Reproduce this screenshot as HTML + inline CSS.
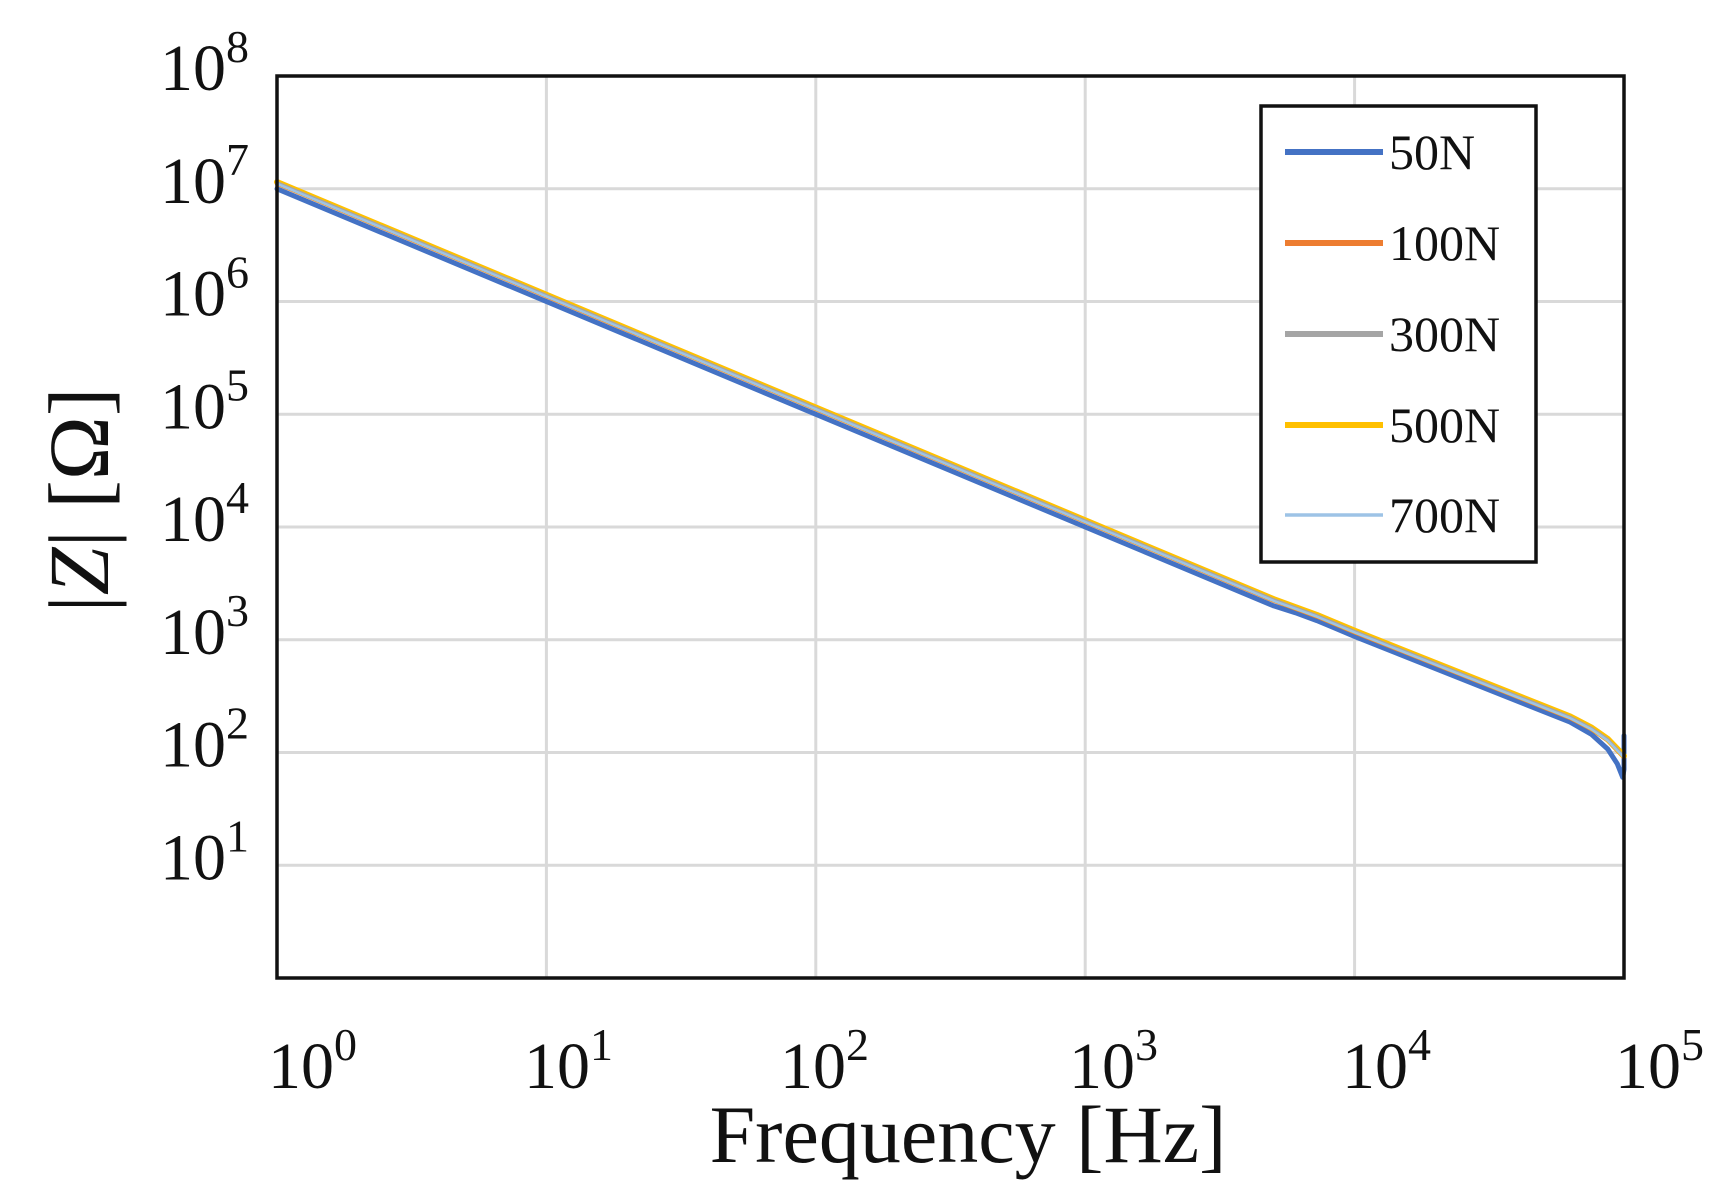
<!DOCTYPE html>
<html><head><meta charset="utf-8"><style>
html,body{margin:0;padding:0;background:#fff}
svg{display:block}
text{font-family:"Liberation Serif",serif;fill:#111}
</style></head><body>
<svg id="s" width="1736" height="1199" viewBox="0 0 1736 1199" xmlns="http://www.w3.org/2000/svg">
<rect width="1736" height="1199" fill="#fff"/>
<g stroke="#d9d9d9" stroke-width="3">
<line x1="546.4" y1="76" x2="546.4" y2="978"/>
<line x1="815.8" y1="76" x2="815.8" y2="978"/>
<line x1="1085.2" y1="76" x2="1085.2" y2="978"/>
<line x1="1354.6" y1="76" x2="1354.6" y2="978"/>
<line x1="277" y1="188.75" x2="1624" y2="188.75"/>
<line x1="277" y1="301.5" x2="1624" y2="301.5"/>
<line x1="277" y1="414.25" x2="1624" y2="414.25"/>
<line x1="277" y1="527" x2="1624" y2="527"/>
<line x1="277" y1="639.75" x2="1624" y2="639.75"/>
<line x1="277" y1="752.5" x2="1624" y2="752.5"/>
<line x1="277" y1="865.25" x2="1624" y2="865.25"/>
</g>
<g id="series" fill="none" stroke-linejoin="round" stroke-linecap="round"></g>
<rect x="277" y="76" width="1347" height="902" fill="none" stroke="#111" stroke-width="3.5"/>
<rect x="1261" y="106" width="275" height="456" fill="#fff" stroke="#111" stroke-width="3.5"/>
<g stroke-width="6">
<line x1="1285" y1="152" x2="1383" y2="152" stroke="#4472c4"/>
<line x1="1285" y1="243" x2="1383" y2="243" stroke="#ed7d31"/>
<line x1="1285" y1="334" x2="1383" y2="334" stroke="#a5a5a5"/>
<line x1="1285" y1="425" x2="1383" y2="425" stroke="#ffc000"/>
<line x1="1285" y1="515" x2="1383" y2="515" stroke="#9dc3e6" stroke-width="3.5"/>
</g>
<g font-size="50">
<text x="1389" y="169">50N</text>
<text x="1389" y="260">100N</text>
<text x="1389" y="351">300N</text>
<text x="1389" y="442">500N</text>
<text x="1389" y="532">700N</text>
</g>
<g id="yl" font-size="66"></g>
<g id="xl" font-size="66"></g>
<text x="968" y="1162" font-size="82" text-anchor="middle">Frequency [Hz]</text>
<text transform="translate(108,500) rotate(-90)" font-size="86" text-anchor="middle">|<tspan font-style="italic">Z</tspan>| [Ω]</text>
</svg>
<script>
var NS="http://www.w3.org/2000/svg";
function X(l){return 277+269.4*l}function Y(l){return 978-112.75*l}
var main=[[0,7.04],[3.7,3.34],[3.78,3.27],[3.86,3.2],[3.93,3.13],[4,3.06],[4.8,2.3],[4.88,2.2],[4.94,2.1],[4.98,2.0],[5,1.95]];
function path(pts,dy){return pts.map(function(p,i){return (i?"L":"M")+X(p[0]).toFixed(1)+","+(Y(p[1]+dy)).toFixed(1)}).join(" ")}
var blue=[[0,7.0],[3.7,3.3],[3.78,3.24],[3.86,3.17],[3.93,3.1],[4,3.03],[4.8,2.27],[4.88,2.16],[4.94,2.03],[4.975,1.9],[4.995,1.78],[5,1.85],[5,2.15]];
var g=document.getElementById("series");
function add(d,c,w){var p=document.createElementNS(NS,"path");p.setAttribute("d",d);p.setAttribute("stroke",c);p.setAttribute("stroke-width",w);g.appendChild(p)}
add(path(blue,0),"#4472c4",5);
add(path(main,0.01),"#ed7d31",5);
add(path(main,0.02),"#ffc000",6);
add(path(main,0.015),"#a5a5a5",3);
add(path(main,0.005),"#9dc3e6",2.5);
var yl=document.getElementById("yl");
for(var k=1;k<=8;k++){var t=document.createElementNS(NS,"text");t.setAttribute("x",160);t.setAttribute("y",Y(k)+14);
t.innerHTML='10<tspan font-size="46" dy="-28">'+k+'</tspan>';yl.appendChild(t);}
var xl=document.getElementById("xl");
var xs=[268,524,780,1069,1342,1615];
for(var k=0;k<=5;k++){var t=document.createElementNS(NS,"text");t.setAttribute("x",xs[k]);t.setAttribute("y",1088);
t.innerHTML='10<tspan font-size="46" dy="-28">'+k+'</tspan>';xl.appendChild(t);}
</script>
</body></html>
